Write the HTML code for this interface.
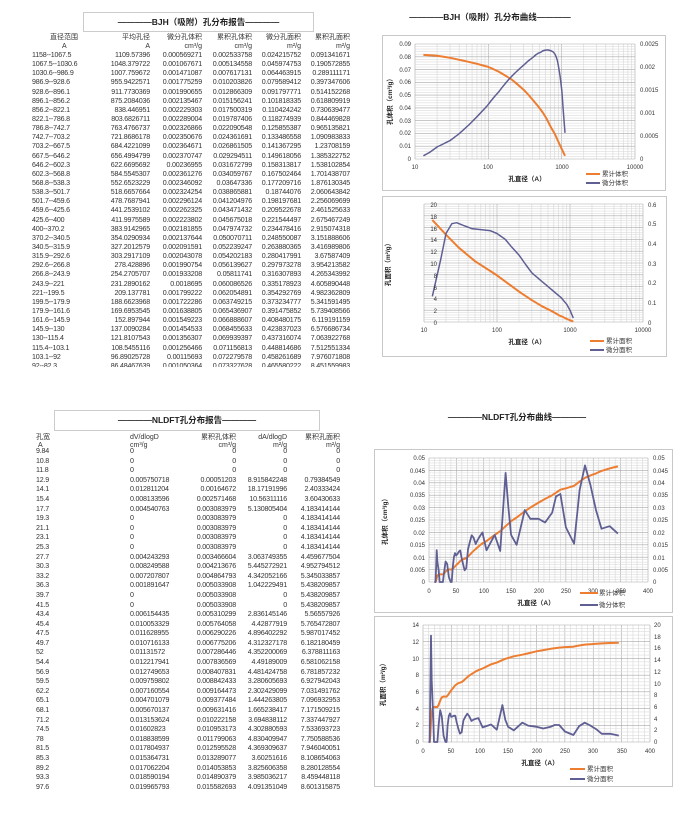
<!DOCTYPE html>
<html><head><meta charset="utf-8">
<style>
body{margin:0;width:695px;height:817px;background:#fff;position:relative;overflow:hidden;font-family:"Liberation Sans","Noto Sans CJK SC",sans-serif;color:#333}
.tb{position:absolute;left:0;width:355px;font-size:7.1px;letter-spacing:-0.2px;line-height:1}
.tb div{position:relative;white-space:nowrap}
.tb span{position:absolute;top:0}
#t1{top:52px;overflow:hidden;height:315px}
#t1 div{height:9.15px}
#t1 .a{left:32px}#t1 .b{right:205px}#t1 .c{right:153px}#t1 .d{right:103px}#t1 .e{right:54px}#t1 .f{right:5px}
#t2{top:448px}
#t2 div{height:9.6px}
#t2 .a{left:36px}#t2 .b{left:130px}#t2 .c{right:119px}#t2 .d{right:68px}#t2 .e{right:15px}
.box{position:absolute;border:1px solid #ccc;font-weight:bold;font-size:8.5px;text-align:center;color:#222}
.hd{position:absolute;font-size:7px;white-space:nowrap;line-height:1;color:#333}
svg{position:absolute;left:0;top:0}
svg text{font-family:"Liberation Sans","Noto Sans CJK SC",sans-serif}
</style></head><body>
<div class="box" style="left:83px;top:12px;width:229px;height:18px;line-height:18px">————BJH（吸附）孔分布报告————</div>
<div class="hd" style="left:50px;top:34px">直径范围</div><div class="hd" style="left:62px;top:43px">A</div>
<div class="hd" style="right:545px;top:34px">平均孔径</div><div class="hd" style="right:545px;top:43px">A</div>
<div class="hd" style="right:493px;top:34px">微分孔体积</div><div class="hd" style="right:493px;top:43px">cm³/g</div>
<div class="hd" style="right:443px;top:34px">累积孔体积</div><div class="hd" style="right:443px;top:43px">cm³/g</div>
<div class="hd" style="right:394px;top:34px">微分孔面积</div><div class="hd" style="right:394px;top:43px">m²/g</div>
<div class="hd" style="right:345px;top:34px">累积孔面积</div><div class="hd" style="right:345px;top:43px">m²/g</div>
<div class="tb" id="t1">
<div><span class="a">1158--1067.5</span><span class="b">1109.57396</span><span class="c">0.000569271</span><span class="d">0.002533758</span><span class="e">0.024215752</span><span class="f">0.091341671</span></div>
<div><span class="a">1067.5--1030.6</span><span class="b">1048.379722</span><span class="c">0.001067671</span><span class="d">0.005134558</span><span class="e">0.045974753</span><span class="f">0.190572855</span></div>
<div><span class="a">1030.6--986.9</span><span class="b">1007.759672</span><span class="c">0.001471087</span><span class="d">0.007617131</span><span class="e">0.064463915</span><span class="f">0.289111171</span></div>
<div><span class="a">986.9--928.6</span><span class="b">955.9422571</span><span class="c">0.001775259</span><span class="d">0.010203826</span><span class="e">0.079589412</span><span class="f">0.397347606</span></div>
<div><span class="a">928.6--896.1</span><span class="b">911.7730369</span><span class="c">0.001990655</span><span class="d">0.012866309</span><span class="e">0.091797771</span><span class="f">0.514152268</span></div>
<div><span class="a">896.1--856.2</span><span class="b">875.2084036</span><span class="c">0.002135467</span><span class="d">0.015156241</span><span class="e">0.101818335</span><span class="f">0.618809919</span></div>
<div><span class="a">856.2--822.1</span><span class="b">838.446951</span><span class="c">0.002229303</span><span class="d">0.017500319</span><span class="e">0.110424242</span><span class="f">0.730639477</span></div>
<div><span class="a">822.1--786.8</span><span class="b">803.6826711</span><span class="c">0.002289004</span><span class="d">0.019787406</span><span class="e">0.118274939</span><span class="f">0.844469828</span></div>
<div><span class="a">786.8--742.7</span><span class="b">763.4766737</span><span class="c">0.002326866</span><span class="d">0.022090548</span><span class="e">0.125855387</span><span class="f">0.965135821</span></div>
<div><span class="a">742.7--703.2</span><span class="b">721.8686178</span><span class="c">0.002350676</span><span class="d">0.024361691</span><span class="e">0.133486558</span><span class="f">1.090983833</span></div>
<div><span class="a">703.2--667.5</span><span class="b">684.4221099</span><span class="c">0.002364671</span><span class="d">0.026861505</span><span class="e">0.141367295</span><span class="f">1.23708159</span></div>
<div><span class="a">667.5--646.2</span><span class="b">656.4994799</span><span class="c">0.002370747</span><span class="d">0.029294511</span><span class="e">0.149618056</span><span class="f">1.385322752</span></div>
<div><span class="a">646.2--602.3</span><span class="b">622.6695692</span><span class="c">0.00236955</span><span class="d">0.031672799</span><span class="e">0.158313817</span><span class="f">1.538102854</span></div>
<div><span class="a">602.3--568.8</span><span class="b">584.5545307</span><span class="c">0.002361276</span><span class="d">0.034059767</span><span class="e">0.167502464</span><span class="f">1.701438707</span></div>
<div><span class="a">568.8--538.3</span><span class="b">552.6523229</span><span class="c">0.002346092</span><span class="d">0.03647336</span><span class="e">0.177209716</span><span class="f">1.876130345</span></div>
<div><span class="a">538.3--501.7</span><span class="b">518.6657664</span><span class="c">0.002324254</span><span class="d">0.038865881</span><span class="e">0.18744076</span><span class="f">2.060643842</span></div>
<div><span class="a">501.7--459.6</span><span class="b">478.7687941</span><span class="c">0.002296124</span><span class="d">0.041204976</span><span class="e">0.198197681</span><span class="f">2.256069699</span></div>
<div><span class="a">459.6--425.6</span><span class="b">441.2539102</span><span class="c">0.002262325</span><span class="d">0.043471432</span><span class="e">0.209522678</span><span class="f">2.461525633</span></div>
<div><span class="a">425.6--400</span><span class="b">411.9975589</span><span class="c">0.002223802</span><span class="d">0.045675018</span><span class="e">0.221544497</span><span class="f">2.675467249</span></div>
<div><span class="a">400--370.2</span><span class="b">383.9142965</span><span class="c">0.002181855</span><span class="d">0.047974732</span><span class="e">0.234478416</span><span class="f">2.915074318</span></div>
<div><span class="a">370.2--340.5</span><span class="b">354.0290934</span><span class="c">0.002137644</span><span class="d">0.050070711</span><span class="e">0.248550087</span><span class="f">3.151888606</span></div>
<div><span class="a">340.5--315.9</span><span class="b">327.2012579</span><span class="c">0.002091591</span><span class="d">0.052239247</span><span class="e">0.263880365</span><span class="f">3.416989806</span></div>
<div><span class="a">315.9--292.6</span><span class="b">303.2917109</span><span class="c">0.002043078</span><span class="d">0.054202183</span><span class="e">0.280417991</span><span class="f">3.67587409</span></div>
<div><span class="a">292.6--266.8</span><span class="b">278.428896</span><span class="c">0.001990754</span><span class="d">0.056139627</span><span class="e">0.297973278</span><span class="f">3.954213582</span></div>
<div><span class="a">266.8--243.9</span><span class="b">254.2705707</span><span class="c">0.001933208</span><span class="d">0.05811741</span><span class="e">0.316307893</span><span class="f">4.265343992</span></div>
<div><span class="a">243.9--221</span><span class="b">231.2890162</span><span class="c">0.0018695</span><span class="d">0.060086526</span><span class="e">0.335178923</span><span class="f">4.605890448</span></div>
<div><span class="a">221--199.5</span><span class="b">209.137781</span><span class="c">0.001799222</span><span class="d">0.062054891</span><span class="e">0.354292769</span><span class="f">4.982362809</span></div>
<div><span class="a">199.5--179.9</span><span class="b">188.6623968</span><span class="c">0.001722286</span><span class="d">0.063749215</span><span class="e">0.373234777</span><span class="f">5.341591495</span></div>
<div><span class="a">179.9--161.6</span><span class="b">169.6953545</span><span class="c">0.001638805</span><span class="d">0.065436907</span><span class="e">0.391475852</span><span class="f">5.739408566</span></div>
<div><span class="a">161.6--145.9</span><span class="b">152.897944</span><span class="c">0.001549223</span><span class="d">0.066888607</span><span class="e">0.408480175</span><span class="f">6.119191159</span></div>
<div><span class="a">145.9--130</span><span class="b">137.0090284</span><span class="c">0.001454533</span><span class="d">0.068455633</span><span class="e">0.423837023</span><span class="f">6.576686734</span></div>
<div><span class="a">130--115.4</span><span class="b">121.8107543</span><span class="c">0.001356307</span><span class="d">0.069939397</span><span class="e">0.437316074</span><span class="f">7.063922768</span></div>
<div><span class="a">115.4--103.1</span><span class="b">108.5455116</span><span class="c">0.001256466</span><span class="d">0.071156813</span><span class="e">0.448814686</span><span class="f">7.512551334</span></div>
<div><span class="a">103.1--92</span><span class="b">96.89025728</span><span class="c">0.00115693</span><span class="d">0.072279578</span><span class="e">0.458261689</span><span class="f">7.976071808</span></div>
<div><span class="a">92--82.3</span><span class="b">86.48467639</span><span class="c">0.001050364</span><span class="d">0.073327628</span><span class="e">0.465580222</span><span class="f">8.451559983</span></div>
</div>

<div class="box" style="left:54px;top:410px;width:264px;height:19px;line-height:19px">————NLDFT孔分布报告————</div>
<div class="hd" style="left:36px;top:434px">孔宽</div><div class="hd" style="left:38px;top:442px">A</div>
<div class="hd" style="left:130px;top:434px">dV/dlogD</div><div class="hd" style="left:130px;top:442px">cm³/g</div>
<div class="hd" style="right:459px;top:434px">累积孔体积</div><div class="hd" style="right:459px;top:442px">cm³/g</div>
<div class="hd" style="right:408px;top:434px">dA/dlogD</div><div class="hd" style="right:408px;top:442px">m²/g</div>
<div class="hd" style="right:355px;top:434px">累积孔面积</div><div class="hd" style="right:355px;top:442px">m²/g</div>
<div class="tb" id="t2">
<div><span class="a">9.84</span><span class="b">0</span><span class="c">0</span><span class="d">0</span><span class="e">0</span></div>
<div><span class="a">10.8</span><span class="b">0</span><span class="c">0</span><span class="d">0</span><span class="e">0</span></div>
<div><span class="a">11.8</span><span class="b">0</span><span class="c">0</span><span class="d">0</span><span class="e">0</span></div>
<div><span class="a">12.9</span><span class="b">0.005750718</span><span class="c">0.00051203</span><span class="d">8.915842248</span><span class="e">0.79384549</span></div>
<div><span class="a">14.1</span><span class="b">0.012811204</span><span class="c">0.00164672</span><span class="d">18.17191996</span><span class="e">2.40333424</span></div>
<div><span class="a">15.4</span><span class="b">0.008133596</span><span class="c">0.002571468</span><span class="d">10.56311116</span><span class="e">3.60430633</span></div>
<div><span class="a">17.7</span><span class="b">0.004540763</span><span class="c">0.003083979</span><span class="d">5.130805404</span><span class="e">4.183414144</span></div>
<div><span class="a">19.3</span><span class="b">0</span><span class="c">0.003083979</span><span class="d">0</span><span class="e">4.183414144</span></div>
<div><span class="a">21.1</span><span class="b">0</span><span class="c">0.003083979</span><span class="d">0</span><span class="e">4.183414144</span></div>
<div><span class="a">23.1</span><span class="b">0</span><span class="c">0.003083979</span><span class="d">0</span><span class="e">4.183414144</span></div>
<div><span class="a">25.3</span><span class="b">0</span><span class="c">0.003083979</span><span class="d">0</span><span class="e">4.183414144</span></div>
<div><span class="a">27.7</span><span class="b">0.004243293</span><span class="c">0.003466604</span><span class="d">3.063749355</span><span class="e">4.459677504</span></div>
<div><span class="a">30.3</span><span class="b">0.008249588</span><span class="c">0.004213676</span><span class="d">5.445272921</span><span class="e">4.952794512</span></div>
<div><span class="a">33.2</span><span class="b">0.007207807</span><span class="c">0.004864793</span><span class="d">4.342052166</span><span class="e">5.345033857</span></div>
<div><span class="a">36.3</span><span class="b">0.001891647</span><span class="c">0.005033908</span><span class="d">1.042229491</span><span class="e">5.438209857</span></div>
<div><span class="a">39.7</span><span class="b">0</span><span class="c">0.005033908</span><span class="d">0</span><span class="e">5.438209857</span></div>
<div><span class="a">41.5</span><span class="b">0</span><span class="c">0.005033908</span><span class="d">0</span><span class="e">5.438209857</span></div>
<div><span class="a">43.4</span><span class="b">0.006154435</span><span class="c">0.005310299</span><span class="d">2.836145146</span><span class="e">5.56557926</span></div>
<div><span class="a">45.4</span><span class="b">0.010053329</span><span class="c">0.005764058</span><span class="d">4.42877919</span><span class="e">5.765472807</span></div>
<div><span class="a">47.5</span><span class="b">0.011628955</span><span class="c">0.006290226</span><span class="d">4.896402292</span><span class="e">5.987017452</span></div>
<div><span class="a">49.7</span><span class="b">0.010716133</span><span class="c">0.006775206</span><span class="d">4.312327178</span><span class="e">6.182180459</span></div>
<div><span class="a">52</span><span class="b">0.01131572</span><span class="c">0.007286446</span><span class="d">4.352200069</span><span class="e">6.378811163</span></div>
<div><span class="a">54.4</span><span class="b">0.012217941</span><span class="c">0.007836569</span><span class="d">4.49189009</span><span class="e">6.581062158</span></div>
<div><span class="a">56.9</span><span class="b">0.012749653</span><span class="c">0.008407831</span><span class="d">4.481424758</span><span class="e">6.781857232</span></div>
<div><span class="a">59.5</span><span class="b">0.009759802</span><span class="c">0.008842433</span><span class="d">3.280605693</span><span class="e">6.927942043</span></div>
<div><span class="a">62.2</span><span class="b">0.007160554</span><span class="c">0.009164473</span><span class="d">2.302429099</span><span class="e">7.031491762</span></div>
<div><span class="a">65.1</span><span class="b">0.004701079</span><span class="c">0.009377484</span><span class="d">1.444263805</span><span class="e">7.096932953</span></div>
<div><span class="a">68.1</span><span class="b">0.005670137</span><span class="c">0.009631416</span><span class="d">1.665238417</span><span class="e">7.171509215</span></div>
<div><span class="a">71.2</span><span class="b">0.013153624</span><span class="c">0.010222158</span><span class="d">3.694838112</span><span class="e">7.337447927</span></div>
<div><span class="a">74.5</span><span class="b">0.01602823</span><span class="c">0.010953173</span><span class="d">4.302880593</span><span class="e">7.533693723</span></div>
<div><span class="a">78</span><span class="b">0.018838599</span><span class="c">0.011799063</span><span class="d">4.830409947</span><span class="e">7.750588536</span></div>
<div><span class="a">81.5</span><span class="b">0.017804937</span><span class="c">0.012595528</span><span class="d">4.369309637</span><span class="e">7.946040051</span></div>
<div><span class="a">85.3</span><span class="b">0.015364731</span><span class="c">0.013289077</span><span class="d">3.60251616</span><span class="e">8.108654063</span></div>
<div><span class="a">89.2</span><span class="b">0.017062204</span><span class="c">0.014053853</span><span class="d">3.825606358</span><span class="e">8.280128554</span></div>
<div><span class="a">93.3</span><span class="b">0.018590194</span><span class="c">0.014890379</span><span class="d">3.985036217</span><span class="e">8.459448118</span></div>
<div><span class="a">97.6</span><span class="b">0.019965793</span><span class="c">0.015582693</span><span class="d">4.091351049</span><span class="e">8.601315875</span></div>
</div>

<svg width="695" height="817" viewBox="0 0 695 817" font-size="6" fill="#333">
<g fill="none" stroke="#c8c8c8" stroke-width="1">
<rect x="382.5" y="35.5" width="283" height="155"/>
<rect x="382.5" y="196.5" width="284" height="160"/>
<rect x="374.5" y="449.5" width="298" height="163"/>
<rect x="374.5" y="616.5" width="298" height="170"/>
</g>
<g id="grids"></g>
<g id="series"></g>
<text x="490" y="20" font-size="8.5" font-weight="bold" text-anchor="middle" fill="#222">————BJH（吸附）孔分布曲线————</text>
<text x="517" y="420" font-size="8.5" font-weight="bold" text-anchor="middle" fill="#222">————NLDFT孔分布曲线————</text>
<g text-anchor="end">
<text x="411" y="46">0.09</text><text x="411" y="59">0.08</text><text x="411" y="72">0.07</text><text x="411" y="84">0.06</text><text x="411" y="97">0.05</text><text x="411" y="110">0.04</text><text x="411" y="123">0.03</text><text x="411" y="135">0.02</text><text x="411" y="148">0.01</text><text x="411" y="161">0</text>
<text x="437" y="207">20</text><text x="437" y="219">18</text><text x="437" y="231">16</text><text x="437" y="242">14</text><text x="437" y="254">12</text><text x="437" y="266">10</text><text x="437" y="278">8</text><text x="437" y="290">6</text><text x="437" y="301">4</text><text x="437" y="313">2</text><text x="437" y="325">0</text>
<text x="425" y="460">0.05</text><text x="425" y="473">0.045</text><text x="425" y="485">0.04</text><text x="425" y="497">0.035</text><text x="425" y="510">0.03</text><text x="425" y="522">0.025</text><text x="425" y="535">0.02</text><text x="425" y="547">0.015</text><text x="425" y="560">0.01</text><text x="425" y="572">0.005</text><text x="425" y="584">0</text>
<text x="419" y="627">14</text><text x="419" y="644">12</text><text x="419" y="661">10</text><text x="419" y="677">8</text><text x="419" y="694">6</text><text x="419" y="711">4</text><text x="419" y="727">2</text><text x="419" y="744">0</text>
</g>
<g>
<text x="640" y="46">0.0025</text><text x="640" y="69">0.002</text><text x="640" y="92">0.0015</text><text x="640" y="115">0.001</text><text x="640" y="138">0.0005</text><text x="640" y="161">0</text>
<text x="648" y="207">0.6</text><text x="648" y="226">0.5</text><text x="648" y="246">0.4</text><text x="648" y="266">0.3</text><text x="648" y="285">0.2</text><text x="648" y="305">0.1</text><text x="648" y="325">0</text>
<text x="653" y="460">0.05</text><text x="653" y="473">0.045</text><text x="653" y="485">0.04</text><text x="653" y="497">0.035</text><text x="653" y="510">0.03</text><text x="653" y="522">0.025</text><text x="653" y="535">0.02</text><text x="653" y="547">0.015</text><text x="653" y="560">0.01</text><text x="653" y="572">0.005</text><text x="653" y="584">0</text>
<text x="654" y="627">20</text><text x="654" y="639">18</text><text x="654" y="650">16</text><text x="654" y="662">14</text><text x="654" y="674">12</text><text x="654" y="686">10</text><text x="654" y="697">8</text><text x="654" y="709">6</text><text x="654" y="721">4</text><text x="654" y="732">2</text><text x="654" y="744">0</text>
</g>
<g text-anchor="middle">
<text x="415" y="169">10</text><text x="488" y="169">100</text><text x="562" y="169">1000</text><text x="635" y="169">10000</text>
<text x="424" y="332">10</text><text x="497" y="332">100</text><text x="570" y="332">1000</text><text x="643" y="332">10000</text>
<text x="429" y="593">0</text><text x="456" y="593">50</text><text x="484" y="593">100</text><text x="511" y="593">150</text><text x="539" y="593">200</text><text x="566" y="593">250</text><text x="593" y="593">300</text><text x="621" y="593">350</text><text x="648" y="593">400</text>
<text x="423" y="753">0</text><text x="451" y="753">50</text><text x="480" y="753">100</text><text x="508" y="753">150</text><text x="537" y="753">200</text><text x="565" y="753">250</text><text x="593" y="753">300</text><text x="622" y="753">350</text><text x="650" y="753">400</text>
</g>
<g font-weight="bold" font-size="6.5" fill="#222">
<text x="527" y="181" text-anchor="middle">孔直径（A）</text>
<text x="527" y="344" text-anchor="middle">孔直径（A）</text>
<text x="536" y="605" text-anchor="middle">孔直径（A）</text>
<text x="540" y="765" text-anchor="middle">孔直径（A）</text>
<text transform="translate(392,100) rotate(-90)" text-anchor="middle">孔体积（cm³/g）</text>
<text transform="translate(390,263) rotate(-90)" text-anchor="middle">孔面积（m²/g）</text>
<text transform="translate(387,520) rotate(-90)" text-anchor="middle">孔体积（cm³/g）</text>
<text transform="translate(385,683) rotate(-90)" text-anchor="middle">孔面积（m²/g）</text>
</g>
<g stroke-width="2" fill="none">
<line x1="586" y1="174" x2="600" y2="174" stroke="#ed7d31"/><line x1="586" y1="183" x2="600" y2="183" stroke="#5f5f94"/>
<line x1="590" y1="341" x2="604" y2="341" stroke="#ed7d31"/><line x1="590" y1="350" x2="604" y2="350" stroke="#5f5f94"/>
<line x1="580" y1="593" x2="598" y2="593" stroke="#ed7d31"/><line x1="580" y1="605" x2="598" y2="605" stroke="#5f5f94"/>
<line x1="570" y1="769" x2="585" y2="769" stroke="#ed7d31"/><line x1="570" y1="779" x2="585" y2="779" stroke="#5f5f94"/>
</g>
<g font-size="6.5">
<text x="602" y="176">累计体积</text><text x="602" y="185">微分体积</text>
<text x="606" y="343">累计面积</text><text x="606" y="352">微分面积</text>
<text x="599" y="595">累计体积</text><text x="599" y="607">微分体积</text>
<text x="587" y="771">累计面积</text><text x="587" y="781">微分面积</text>
</g>
</svg>
<script>
var NS="http://www.w3.org/2000/svg";
var G=document.getElementById("grids"),S=document.getElementById("series");
function ln(p,x1,y1,x2,y2,c,w){var l=document.createElementNS(NS,"line");l.setAttribute("x1",x1);l.setAttribute("y1",y1);l.setAttribute("x2",x2);l.setAttribute("y2",y2);l.setAttribute("stroke",c);l.setAttribute("stroke-width",w||0.6);p.appendChild(l);}
function pl(pts,c,w){var p=document.createElementNS(NS,"polyline");p.setAttribute("points",pts.map(function(a){return a[0].toFixed(1)+","+a[1].toFixed(1)}).join(" "));p.setAttribute("fill","none");p.setAttribute("stroke",c);p.setAttribute("stroke-width",w);p.setAttribute("stroke-linejoin","round");S.appendChild(p);}
function logChart(x0,x1,y0,y1,nH){
 var dec=(x1-x0)/3;
 for(var d=0;d<3;d++)for(var k=1;k<10;k++){var x=x0+dec*(d+Math.log10(k));ln(G,x,y1,x,y0,k==1?"#a8a8a8":"#d6d6d6",0.6);}
 ln(G,x1,y1,x1,y0,"#a8a8a8",0.6);
 for(var i=0;i<=nH*5;i++){var y=y0-(y0-y1)*i/(nH*5);ln(G,x0,y,x1,y,i%5==0?"#a8a8a8":"#dcdcdc",0.6);}
 return function(v){return x0+dec*Math.log10(v/10);};
}
function linChart(x0,x1,y0,y1,nH){
 for(var i=0;i<=40;i++){var x=x0+(x1-x0)*i/40;ln(G,x,y1,x,y0,i%5==0?"#a8a8a8":"#d6d6d6",0.6);}
 for(var i=0;i<=nH*5;i++){var y=y0-(y0-y1)*i/(nH*5);ln(G,x0,y,x1,y,i%5==0?"#a8a8a8":"#dcdcdc",0.6);}
 return function(v){return x0+(x1-x0)*v/400;};
}
var OR="#ed7d31",PU="#5f5f94";
var fx=logChart(415,635,159,44,9);
var c1=[[13,.0815],[20,.0808],[30,.0792],[50,.0765],[70,.0745],[96.9,.0723],[108.5,.0712],[137,.0685],[169,.0654],[209,.0621],[254,.0581],[303,.0542],[354,.0501],[412,.0457],[478,.0412],[552,.0365],[622,.0317],[721,.0244],[803,.0198],[911,.0129],[1007,.0076],[1109,.0025]];
pl(c1.map(function(a){return[fx(a[0]),159-a[1]/.09*115]}),OR,2);
var d1=[[13,.00007],[16,.00015],[20,.00026],[30,.0004],[40,.00055],[55,.00075],[70,.00092],[97,.00116],[108.5,.00126],[122,.00136],[137,.00145],[153,.00155],[170,.00164],[188,.00172],[209,.0018],[231,.00187],[254,.00193],[278,.00199],[303,.00204],[327,.00209],[354,.00214],[384,.00218],[412,.00222],[441,.00226],[478,.0023],[518,.00232],[552,.00235],[584,.00236],[622,.00237],[656,.00237],[684,.00236],[721,.00235],[763,.00233],[803,.00229],[838,.00223],[875,.00214],[911,.00199],[955,.00178],[1007,.00147],[1048,.00107],[1109,.00057]];
pl(d1.map(function(a){return[fx(a[0]),159-a[1]/.0025*115]}),PU,1.5);
fx=logChart(424,643,322,204,10);
var c2=[[13,17.3],[20,14.8],[30,12.6],[50,10.3],[100,7.9],[209,4.98],[303,3.68],[412,2.68],[518,2.06],[622,1.54],[721,1.09],[803,.84],[911,.51],[1007,.29],[1109,.09]];
pl(c2.map(function(a){return[fx(a[0]),322-a[1]/20*118]}),OR,2);
var d2=[[13,.13],[17,.32],[20,.45],[24,.5],[28,.505],[35,.49],[45,.475],[60,.47],[80,.465],[100,.45],[130,.42],[160,.38],[200,.34],[250,.29],[300,.25],[400,.21],[500,.18],[600,.155],[750,.125],[900,.09],[1000,.06],[1109,.02]];
pl(d2.map(function(a){return[fx(a[0]),322-a[1]/.6*118]}),PU,1.5);
var w=[9.84,10.8,11.8,12.9,14.1,15.4,17.7,19.3,21.1,23.1,25.3,27.7,30.3,33.2,36.3,39.7,41.5,43.4,45.4,47.5,49.7,52,54.4,56.9,59.5,62.2,65.1,68.1,71.2,74.5,78,81.5,85.3,89.2,93.3,97.6];
var dv=[0,0,0,.005750718,.012811204,.008133596,.004540763,0,0,0,0,.004243293,.008249588,.007207807,.001891647,0,0,.006154435,.010053329,.011628955,.010716133,.01131572,.012217941,.012749653,.009759802,.007160554,.004701079,.005670137,.013153624,.01602823,.018838599,.017804937,.015364731,.017062204,.018590194,.019965793];
var cv=[0,0,0,.00051203,.00164672,.002571468,.003083979,.003083979,.003083979,.003083979,.003083979,.003466604,.004213676,.004864793,.005033908,.005033908,.005033908,.005310299,.005764058,.006290226,.006775206,.007286446,.007836569,.008407831,.008842433,.009164473,.009377484,.009631416,.010222158,.010953173,.011799063,.012595528,.013289077,.014053853,.014890379,.015582693];
var da=[0,0,0,8.915842248,18.17191996,10.56311116,5.130805404,0,0,0,0,3.063749355,5.445272921,4.342052166,1.042229491,0,0,2.836145146,4.42877919,4.896402292,4.312327178,4.352200069,4.49189009,4.481424758,3.280605693,2.302429099,1.444263805,1.665238417,3.694838112,4.302880593,4.830409947,4.369309637,3.60251616,3.825606358,3.985036217,4.091351049];
var ca=[0,0,0,.79384549,2.40333424,3.60430633,4.183414144,4.183414144,4.183414144,4.183414144,4.183414144,4.459677504,4.952794512,5.345033857,5.438209857,5.438209857,5.438209857,5.56557926,5.765472807,5.987017452,6.182180459,6.378811163,6.581062158,6.781857232,6.927942043,7.031491762,7.096932953,7.171509215,7.337447927,7.533693723,7.750588536,7.946040051,8.108654063,8.280128554,8.459448118,8.601315875];
var wx=[105,120,130,140,145,150,160,175,185,200,212,225,232,240,250,265,275,285,295,305,315,330,345];
var dvx=[.0128,.019,.0125,.044,.03,.019,.015,.029,.0255,.0255,.024,.028,.0345,.0355,.022,.0155,.037,.047,.039,.029,.0215,.0225,.0195];
var cvx=[.0165,.019,.0205,.0225,.0235,.0245,.026,.0285,.030,.032,.0335,.035,.036,.0372,.0378,.0388,.0405,.042,.043,.0438,.0448,.0458,.0466];
var dax=[2.5,3.0,2.1,6.3,3.8,2.6,2.0,3.3,2.8,2.6,2.3,2.6,2.9,2.9,1.8,1.2,2.7,3.3,2.8,2.2,1.4,1.4,1.1];
var cax=[8.8,9.3,9.5,9.8,9.95,10.05,10.25,10.45,10.6,10.85,11.0,11.15,11.22,11.3,11.35,11.4,11.55,11.65,11.7,11.75,11.8,11.85,11.88];
var W=w.concat(wx);
fx=linChart(429,648,582,458,10);
pl(W.map(function(v,i){return[fx(v),582-(cv.concat(cvx))[i]/.05*124]}),OR,2);
pl(W.map(function(v,i){return[fx(v),582-(dv.concat(dvx))[i]/.05*124]}),PU,1.8);
fx=linChart(423,650,742,625,7);
pl(W.map(function(v,i){return[fx(v),742-(ca.concat(cax))[i]/14*117]}),OR,2);
pl(W.map(function(v,i){return[fx(v),742-(da.concat(dax))[i]/20*117]}),PU,1.8);
</script>
</body></html>
